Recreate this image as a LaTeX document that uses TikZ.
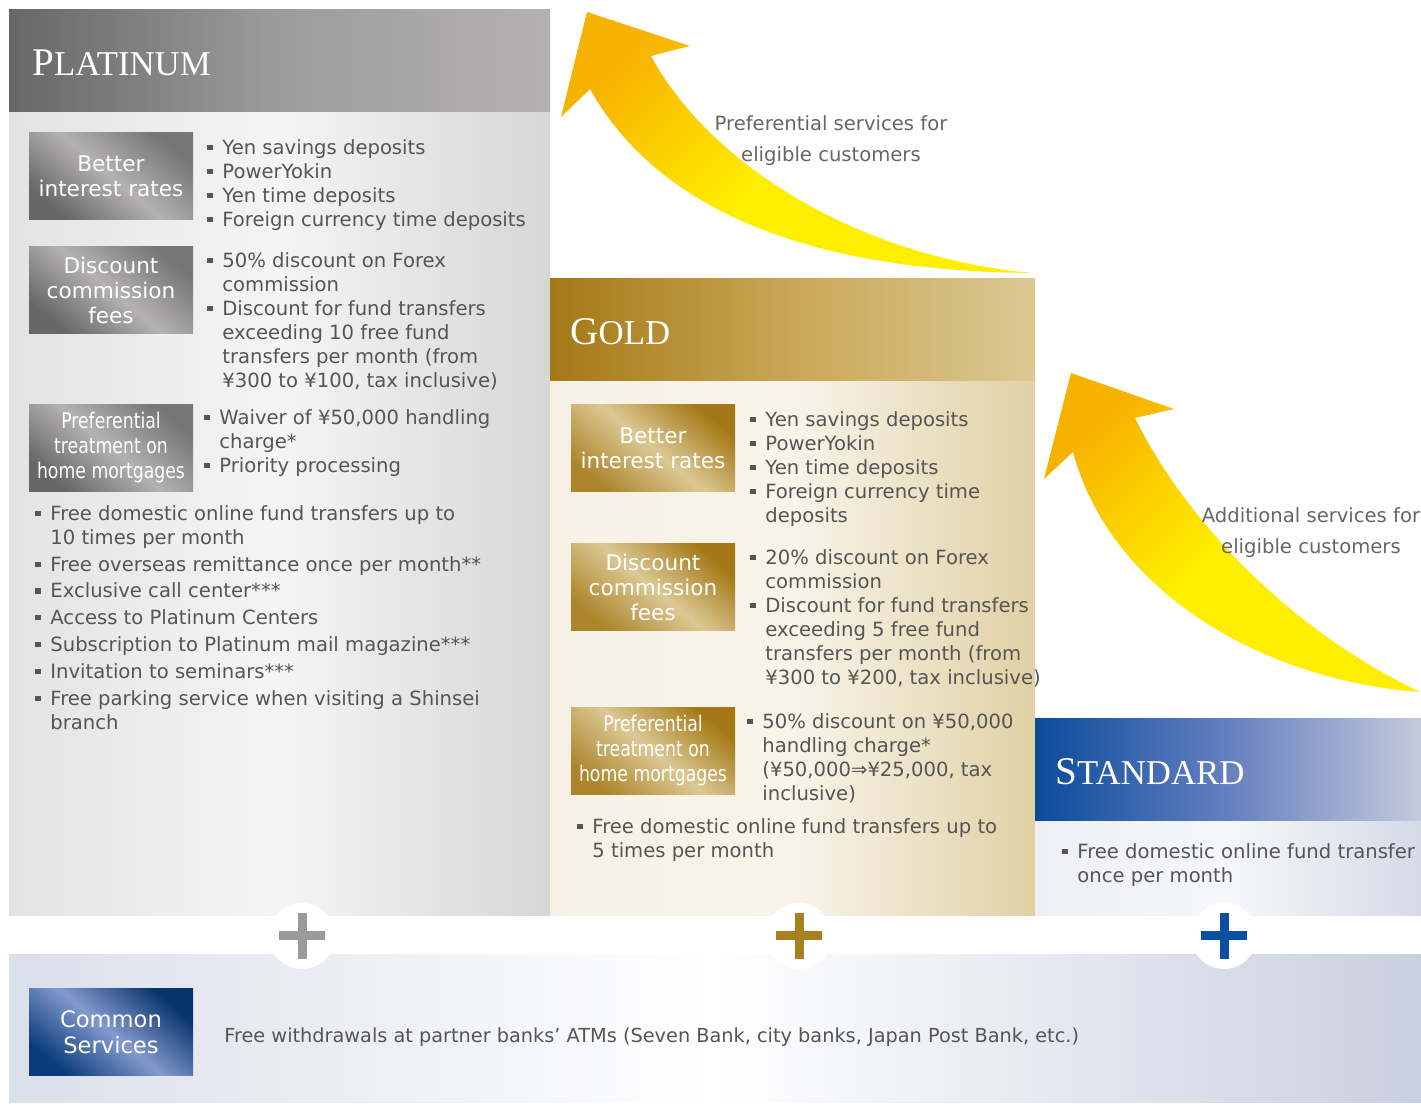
\documentclass[tikz,border=0pt]{standalone}
\usepackage{fontspec}
\setmainfont{DejaVu Sans}
\newfontfamily\ttlfont{Liberation Serif}
\usepackage{graphicx}

\definecolor{txt}{HTML}{555555}
\definecolor{lbltxt}{HTML}{666666}
\definecolor{pltA}{HTML}{676767}
\definecolor{pltB}{HTML}{9C9C9C}
\definecolor{pltC}{HTML}{B4B1B1}
\definecolor{goldA}{HTML}{A47816}
\definecolor{goldB}{HTML}{C9A757}
\definecolor{goldC}{HTML}{DBC894}
\definecolor{stdA}{HTML}{0B4B9B}
\definecolor{stdB}{HTML}{6580C0}
\definecolor{stdC}{HTML}{C3CADC}
\definecolor{arrorange}{HTML}{F7B200}
\definecolor{arryellow}{HTML}{FFEE00}
\definecolor{plusplt}{HTML}{9A9A9A}
\definecolor{plusgold}{HTML}{A88020}
\definecolor{plusstd}{HTML}{0A4FA0}

\newcommand\bul{\makebox[7.5pt][l]{\raisebox{0.22em}{\rule{2.6pt}{2.6pt}}}}
\newcommand\cont{\hspace*{7.5pt}}
\newcommand\tiername[2]{{\ttlfont\fontsize{19.6}{20}\selectfont #1\fontsize{17.4}{20}\selectfont #2}}
\newcommand\narrow[1]{\scalebox{0.8}[1]{\begin{tabular}{@{}c@{}}#1\end{tabular}}}

\tikzset{
  lst/.style={anchor=north west, align=left, inner sep=0pt, text=txt, font=\fontsize{9.8}{12}\selectfont},
  lbl/.style={minimum width=82pt, minimum height=43.5pt, inner sep=0pt, align=center, text=white, font=\fontsize{10.8}{12.5}\selectfont},
  pltlbl/.style={lbl, left color=pltA!90, right color=pltA, middle color=pltC, shading angle=-40},
  goldlbl/.style={lbl, left color=goldA, right color=goldA!90!white, middle color=goldC, shading angle=-40},
  stdlbl/.style={lbl, left color=stdA!70!black, right color=stdA!80!black, middle color=stdB!80!white, shading angle=-40},
  ttl/.style={anchor=base west, inner sep=0pt, text=white},
  arw/.style={top color=arrorange, bottom color=arryellow, middle color=arryellow, shading angle=45},
  note/.style={align=center, text=lbltxt, font=\fontsize{9.8}{15.5}\selectfont},
  hole/.style={circle, fill=white, minimum size=33pt, inner sep=0pt},
  plus/.style={line width=4.5pt},
}

\begin{document}
\begin{tikzpicture}[x=0.5pt, y=-0.5pt]
	\useasboundingbox (0,0) rectangle (1421,1106);
	\fill[white] (0,0) rectangle (1421,1106);

	% panels
	\shade[left color=black!11, right color=black!16, middle color=black!4] (9,112) rectangle (550,916);
	\shade[left color=pltA, right color=pltC, middle color=pltB] (9,10) rectangle (550,112);
	\shade[left color=goldC!25, right color=goldC!85, middle color=goldC!20!white] (550,381) rectangle (1035,916);
	\shade[left color=goldA, right color=goldC, middle color=goldB] (550,279) rectangle (1035,381);
	\shade[left color=stdC!30, right color=stdC!70, middle color=stdC!15] (1035,821) rectangle (1421,916);
	\shade[left color=stdA, right color=stdC, middle color=stdB] (1035,719) rectangle (1421,821);
	\shade[left color=stdC!60, right color=stdC!90, middle color=white] (9,955) rectangle (1421,1103);

	% arrows
	\shade[arw] (587,12) -- (690,46) -- (651,56)
		.. controls (710,165) and (860,258) .. (1033,273)
		.. controls (900,272) and (680,250) .. (590,89) -- (561,117) -- cycle;
	\shade[arw] (1071,373) -- (1174,409) -- (1135,418)
		.. controls (1175,500) and (1270,620) .. (1420,692)
		.. controls (1260,680) and (1110,590) .. (1073,452) -- (1044,479) -- cycle;
	\node[note] (up1) at (831,141) {Preferential services for\\eligible customers};
	\node[note] (up2) at (1311,533) {Additional services for\\eligible customers};

	% platinum
	\node[ttl] (plt) at (32,76) {\tiername{P}{LATINUM}};
	\node[pltlbl] (pltrate) at (111,176.5) {Better\\interest rates};
	\node[pltlbl] (pltfee) at (111,290.5) {Discount\\commission\\fees};
	\node[pltlbl] (pltmort) at (111,448.5) {\narrow{Preferential\\treatment on\\home mortgages}};
	\node[lst] (pltl1) at (207,139) {\bul Yen savings deposits\\ \bul PowerYokin\\ \bul Yen time deposits\\ \bul Foreign currency time deposits};
	\node[lst] (pltl2) at (207,252) {\bul 50\% discount on Forex\\ \cont commission\\ \bul Discount for fund transfers\\ \cont exceeding 10 free fund\\ \cont transfers per month (from\\ \cont ¥300 to ¥100, tax inclusive)};
	\node[lst] (pltl3) at (204,409) {\bul Waiver of ¥50,000 handling\\ \cont charge*\\ \bul Priority processing};
	\node[lst] (pltl4) at (35,505) {\bul Free domestic online fund transfers up to\\ \cont 10 times per month\\[1.4pt] \bul Free overseas remittance once per month**\\[1.4pt] \bul Exclusive call center***\\[1.4pt] \bul Access to Platinum Centers\\[1.4pt] \bul Subscription to Platinum mail magazine***\\[1.4pt] \bul Invitation to seminars***\\[1.4pt] \bul Free parking service when visiting a Shinsei\\ \cont branch};

	% gold
	\node[ttl] (gold) at (570,345) {\tiername{G}{OLD}};
	\node[goldlbl] (goldrate) at (653,448.5) {Better\\interest rates};
	\node[goldlbl] (goldfee) at (653,587.5) {Discount\\commission\\fees};
	\node[goldlbl] (goldmort) at (653,751.5) {\narrow{Preferential\\treatment on\\home mortgages}};
	\node[lst] (goldl1) at (750,411) {\bul Yen savings deposits\\ \bul PowerYokin\\ \bul Yen time deposits\\ \bul Foreign currency time\\ \cont deposits};
	\node[lst] (goldl2) at (750,549) {\bul 20\% discount on Forex\\ \cont commission\\ \bul Discount for fund transfers\\ \cont exceeding 5 free fund\\ \cont transfers per month (from\\ \cont ¥300 to ¥200, tax inclusive)};
	\node[lst] (goldl3) at (747,713) {\bul 50\% discount on ¥50,000\\ \cont handling charge*\\ \cont (¥50,000⇒¥25,000, tax\\ \cont inclusive)};
	\node[lst] (goldl4) at (577,818) {\bul Free domestic online fund transfers up to\\ \cont 5 times per month};

	% standard
	\node[ttl] (std) at (1055,785) {\tiername{S}{TANDARD}};
	\node[lst] (stdl1) at (1062,843) {\bul Free domestic online fund transfer\\ \cont once per month};

	% common
	\node[stdlbl, font=\fontsize{11.3}{13}\selectfont] (common) at (111,1032.5) {Common\\Services};
	\node[anchor=west, inner sep=0pt, text=txt, font=\fontsize{9.65}{12}\selectfont] (commonl) at (224,1037) {Free withdrawals at partner banks’ ATMs (Seven Bank, city banks, Japan Post Bank, etc.)};

	% plus signs
	\node[hole] (p1) at (302,936) {};
	\node[hole] (p2) at (799,936) {};
	\node[hole] (p3) at (1224,936) {};
	\draw[plus, plusplt] (279,936) -- (325,936) (302,913) -- (302,959);
	\draw[plus, plusgold] (776,936) -- (822,936) (799,913) -- (799,959);
	\draw[plus, plusstd] (1201,936) -- (1247,936) (1224,913) -- (1224,959);
\end{tikzpicture}
\end{document}
